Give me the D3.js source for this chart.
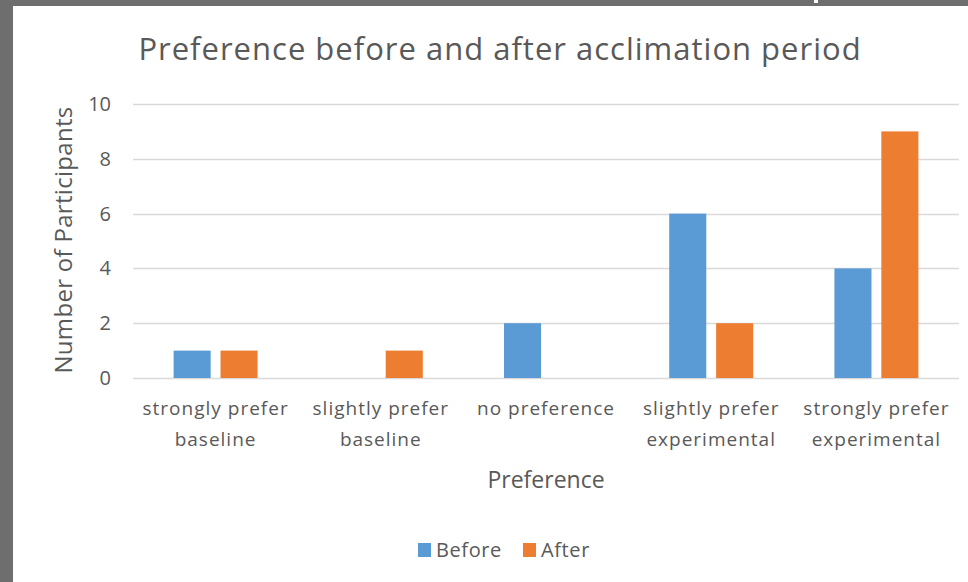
<!DOCTYPE html>
<html>
<head>
<meta charset="utf-8">
<script src="https://cdn.jsdelivr.net/npm/d3@7"></script>
<style>
  html, body { margin: 0; padding: 0; background: #6e6e6e; }
  svg { display: block; }
</style>
</head>
<body>
<svg id="chart" width="968" height="582"></svg>
<script>
// Survey responses: preference before and after the acclimation period
const categories = [
  ["strongly prefer", "baseline"],
  ["slightly prefer", "baseline"],
  ["no preference"],
  ["slightly prefer", "experimental"],
  ["strongly prefer", "experimental"]
];
const beforeValues = [1, 0, 2, 6, 4];
const afterValues = [1, 1, 0, 2, 9];
const seriesNames = ["Before", "After"];
const yTicks = [0, 2, 4, 6, 8, 10];

const colors = { Before: "#5b9bd5", After: "#ed7d31" };
const textColor = "#595959";
const font = "'Open Sans', 'Noto Sans', sans-serif";

const svg = d3.select("#chart");
const W = 968, H = 582;

// chart background panel inside the dark frame
svg.append("rect").attr("x", 13).attr("y", 6).attr("width", W - 13).attr("height", H - 6).attr("fill", "#ffffff");
svg.append("rect").attr("x", 814).attr("y", 0).attr("width", 4).attr("height", 3).attr("fill", "#ffffff");

const plot = { left: 133, right: 959, top: 104, bottom: 378 };

const x = d3.scaleBand()
  .domain(d3.range(categories.length))
  .range([plot.left, plot.right])
  .paddingInner(0).paddingOuter(0);

const inner = d3.scaleBand()
  .domain(seriesNames)
  .range([x.bandwidth() / 2 - 42, x.bandwidth() / 2 + 42])
  .paddingInner(0.21).paddingOuter(0);

const y = d3.scaleLinear().domain([0, 10]).range([plot.bottom, plot.top]);

// horizontal gridlines
svg.append("g")
  .selectAll("line")
  .data(yTicks)
  .join("line")
  .attr("x1", plot.left).attr("x2", plot.right)
  .attr("y1", d => Math.round(y(d)) + 0.5).attr("y2", d => Math.round(y(d)) + 0.5)
  .attr("stroke", "#d9d9d9").attr("stroke-width", 1.3);

// y-axis tick labels
const yAxis = d3.axisLeft(y).tickValues(yTicks).tickSize(0).tickPadding(0);
const yg = svg.append("g").attr("transform", `translate(${plot.left - 22},0)`).call(yAxis);
yg.select(".domain").remove();
yg.selectAll("text")
  .attr("fill", textColor).attr("font-family", font).attr("font-size", 20);

// bars
const table = categories.map((c, i) => ({ i, Before: beforeValues[i], After: afterValues[i] }));
const groups = svg.append("g").selectAll("g")
  .data(table)
  .join("g")
  .attr("transform", d => `translate(${x(d.i)},0)`);

groups.selectAll("rect")
  .data(d => seriesNames.map(s => ({ s, v: d[s] })).filter(e => e.v > 0))
  .join("rect")
  .attr("x", e => inner(e.s))
  .attr("width", inner.bandwidth())
  .attr("y", e => y(e.v))
  .attr("height", e => y(0) - y(e.v))
  .attr("fill", e => colors[e.s]);

// category labels
const xg = svg.append("g");
categories.forEach((lines, i) => {
  const t = xg.append("text")
    .attr("x", x(i) + x.bandwidth() / 2)
    .attr("y", 415)
    .attr("text-anchor", "middle")
    .attr("letter-spacing", 1)
    .attr("fill", textColor).attr("font-family", font).attr("font-size", 19);
  lines.forEach((ln, k) => {
    t.append("tspan").attr("x", x(i) + x.bandwidth() / 2).attr("dy", k === 0 ? 0 : 31).text(ln);
  });
});

// title
svg.append("text")
  .attr("x", 500).attr("y", 60)
  .attr("text-anchor", "middle")
  .attr("letter-spacing", 1)
  .attr("fill", textColor).attr("font-family", font).attr("font-size", 31)
  .text("Preference before and after acclimation period");

// axis titles
svg.append("text")
  .attr("x", 546).attr("y", 488)
  .attr("text-anchor", "middle")
  .attr("fill", textColor).attr("font-family", font).attr("font-size", 23)
  .text("Preference");

svg.append("text")
  .attr("transform", `translate(72,${(plot.top + plot.bottom) / 2 - 1}) rotate(-90)`)
  .attr("text-anchor", "middle")
  .attr("letter-spacing", 0.3)
  .attr("fill", textColor).attr("font-family", font).attr("font-size", 24)
  .text("Number of Participants");

// legend
const legend = svg.append("g").attr("transform", "translate(418,557)");
const legendItems = [{ s: "Before", x: 0 }, { s: "After", x: 105 }];
legendItems.forEach(it => {
  legend.append("rect").attr("x", it.x).attr("y", -14).attr("width", 13).attr("height", 14).attr("fill", colors[it.s]);
  legend.append("text").attr("x", it.x + 18).attr("y", 0)
    .attr("letter-spacing", 0.6)
    .attr("fill", textColor).attr("font-family", font).attr("font-size", 20)
    .text(it.s);
});
</script>
</body>
</html>
